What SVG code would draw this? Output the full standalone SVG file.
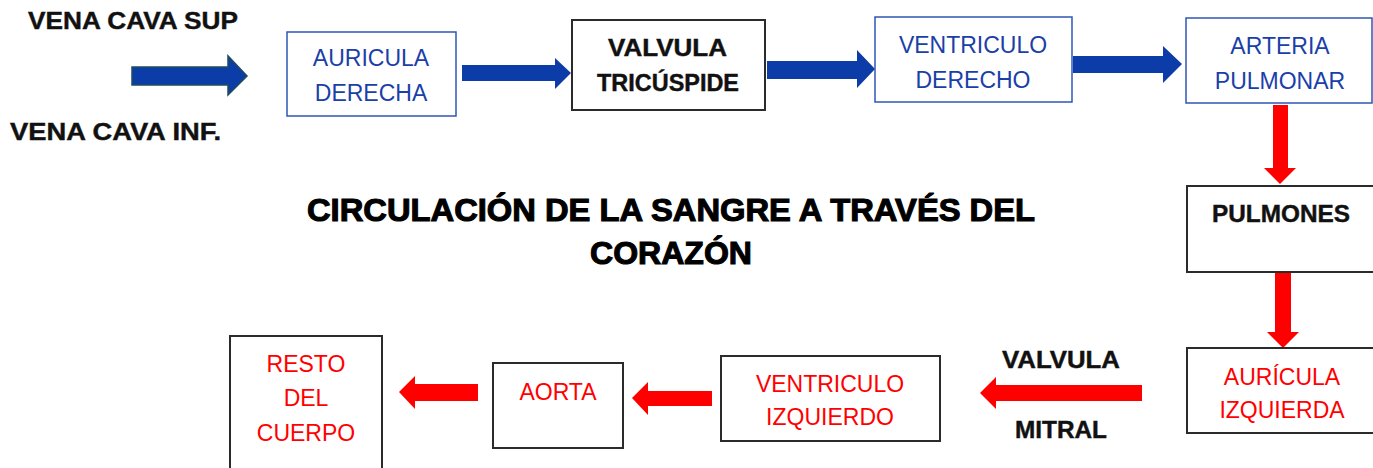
<svg xmlns="http://www.w3.org/2000/svg" width="1373" height="468" viewBox="0 0 1373 468">
<style>
.bg{fill:#ffffff}
.bbox{fill:#ffffff;stroke:#2f55b5;stroke-width:1.5}
.kbox{fill:#ffffff;stroke:#2b2b2b;stroke-width:2}
.bt{font-family:"Liberation Sans",Arial,sans-serif;font-size:23px;fill:#1b3fa8;text-anchor:middle}
.rt{font-family:"Liberation Sans",Arial,sans-serif;font-size:23px;fill:#ff0000;text-anchor:middle}
.kt{font-family:"Liberation Sans",Arial,sans-serif;font-size:23px;font-weight:bold;fill:#111111;stroke:#111111;stroke-width:0.4}
.title{font-family:"Liberation Sans",Arial,sans-serif;font-size:32px;font-weight:bold;fill:#000000;stroke:#000000;stroke-width:1.1}
.ba{fill:#0c3ca8}
.ba1{fill:#0c3ca8;stroke:#1e4d5c;stroke-width:1.5}
.ra{fill:#ff0000}
</style>
<rect class="bg" x="0" y="0" width="1373" height="468"/>

<g id="labels">
<text class="kt" x="28" y="29" textLength="210" lengthAdjust="spacingAndGlyphs">VENA CAVA SUP</text>
<text class="kt" x="10" y="140" textLength="211" lengthAdjust="spacingAndGlyphs">VENA CAVA INF.</text>
<text class="kt" x="1002" y="368" textLength="118" lengthAdjust="spacingAndGlyphs">VALVULA</text>
<text class="kt" x="1015" y="438" textLength="92" lengthAdjust="spacingAndGlyphs">MITRAL</text>
</g>

<g id="title">
<text class="title" x="307" y="221" textLength="728" lengthAdjust="spacingAndGlyphs">CIRCULACIÓN DE LA SANGRE A TRAVÉS DEL</text>
<text class="title" x="590" y="264" textLength="162" lengthAdjust="spacingAndGlyphs">CORAZÓN</text>
</g>

<g id="connectors">
<polygon class="ba1" points="132,67 228,67 228,56 247,76 228,95 228,85 132,85"/>
<polygon class="ba" points="462,65 555,65 555,58 571,73 555,89 555,81 462,81"/>
<polygon class="ba" points="767,61 857,61 857,50 875,69 857,88 857,79 767,79"/>
<polygon class="ba" points="1073,56 1163,56 1163,46 1182,64 1163,83 1163,73 1073,73"/>
<polygon class="ra" points="1273,105 1288,105 1288,168 1296,168 1280,184 1264,168 1273,168"/>
<polygon class="ra" points="1275,270 1291,270 1291,332 1299,332 1283,348 1267,332 1275,332"/>
<polygon class="ra" points="1142,385 996,385 996,377 980,393 996,409 996,401 1142,401"/>
<polygon class="ra" points="712,391 648,391 648,382 632,398 648,415 648,406 712,406"/>
<polygon class="ra" points="478,384 415,384 415,376 399,392 415,409 415,401 478,401"/>
</g>

<g id="auricula-derecha">
<rect class="bbox" x="287" y="32" width="169" height="84"/>
<text class="bt" x="371" y="66">AURICULA</text>
<text class="bt" x="371" y="101">DERECHA</text>
</g>

<g id="valvula-tricuspide">
<rect class="kbox" x="572" y="20" width="193" height="90"/>
<text class="kt" x="608" y="56" textLength="119" lengthAdjust="spacingAndGlyphs">VALVULA</text>
<text class="kt" x="597" y="91" textLength="142" lengthAdjust="spacingAndGlyphs">TRICÚSPIDE</text>
</g>

<g id="ventriculo-derecho">
<rect class="bbox" x="875" y="17" width="197" height="85"/>
<text class="bt" x="973" y="53">VENTRICULO</text>
<text class="bt" x="973" y="88">DERECHO</text>
</g>

<g id="arteria-pulmonar">
<rect class="bbox" x="1186" y="18" width="186" height="85"/>
<text class="bt" x="1280" y="54">ARTERIA</text>
<text class="bt" x="1280" y="89">PULMONAR</text>
</g>

<g id="pulmones">
<rect class="kbox" x="1187" y="186" width="195" height="86"/>
<text class="kt" x="1212" y="222" textLength="138" lengthAdjust="spacingAndGlyphs">PULMONES</text>
</g>

<g id="auricula-izquierda">
<rect class="kbox" x="1187" y="348" width="195" height="85"/>
<text class="rt" x="1282" y="385">AURÍCULA</text>
<text class="rt" x="1282" y="418">IZQUIERDA</text>
</g>

<g id="ventriculo-izquierdo">
<rect class="kbox" x="721" y="356" width="219" height="85"/>
<text class="rt" x="830" y="392">VENTRICULO</text>
<text class="rt" x="830" y="425">IZQUIERDO</text>
</g>

<g id="aorta">
<rect class="kbox" x="493" y="363" width="130" height="85"/>
<text class="rt" x="558" y="400">AORTA</text>
</g>

<g id="resto-del-cuerpo">
<rect class="kbox" x="230" y="336" width="152" height="140"/>
<text class="rt" x="306" y="372">RESTO</text>
<text class="rt" x="306" y="406">DEL</text>
<text class="rt" x="306" y="441">CUERPO</text>
</g>
</svg>
